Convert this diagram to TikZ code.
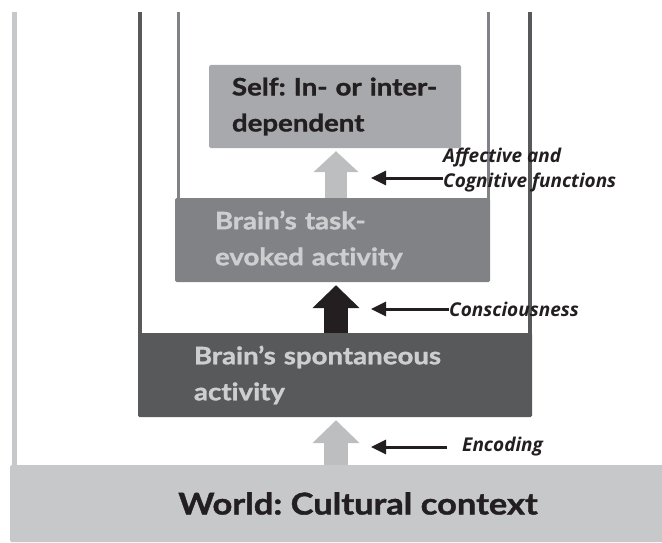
\documentclass[tikz,border=0pt]{standalone}
\usepackage{fontspec}
\setmainfont{Open Sans}
\newfontfamily\stagefont{Lato Bold}[FakeStretch=1.15, FakeBold=1.3, Ligatures=NoCommon]
\usetikzlibrary{arrows.meta}
\definecolor{worldgray}{HTML}{C7C8CA}
\definecolor{spontgray}{HTML}{58595B}
\definecolor{taskgray}{HTML}{808285}
\definecolor{selfgray}{HTML}{A7A9AC}
\definecolor{liftgray}{HTML}{BCBEC0}
\definecolor{inkdark}{HTML}{231F20}
\definecolor{inklight}{HTML}{CDCED0}
\tikzset{
  stage/.style={rounded corners=1.5pt, minimum height=84pt, inner ysep=0pt, align=left,
    font=\stagefont\fontsize{24}{36}\selectfont},
  lift/.style={line width=24pt, -{Triangle[length=23pt,width=46pt]}, shorten >=3pt},
  pointer/.style={inkdark, line width=3pt, -{Triangle[length=15pt,width=14pt]}},
  remark/.style={inkdark, inner sep=0pt, align=left, anchor=west,
    font=\bfseries\itshape\fontsize{19}{25}\selectfont}
}
\frenchspacing
\begin{document}
\begin{tikzpicture}[x=1pt,y=-1pt]
\useasboundingbox (0,0) rectangle (662,543);
% nested walls
\draw[worldgray, line width=5pt] (14,12) -- (14,470);
\draw[spontgray, line width=4pt] (140,12) -- (140,340) (530,12) -- (530,340);
\draw[taskgray, line width=3pt] (178.5,12) -- (178.5,205) (488.5,12) -- (488.5,205);

% the four levels
\node[stage, fill=worldgray, text=inkdark, minimum width=696pt, minimum height=77pt, align=center,
  font=\stagefont\fontsize{30}{36}\selectfont] (world) at (358,503.5) {World: Cultural context};
\node[stage, fill=spontgray, text=inklight, minimum width=394pt, inner xsep=56pt, text width=282pt]
  (spont) at (335,375) {Brain’s spontaneous\\activity};
\node[stage, fill=taskgray, text=inklight, minimum width=315pt, inner xsep=40pt, text width=235pt]
  (task) at (332.5,240) {Brain’s task-\\evoked activity};
\node[stage, fill=selfgray, text=inkdark, minimum width=252pt, minimum height=83pt, inner xsep=23pt, text width=206pt]
  (self) at (335,106.5) {Self: In- or inter-\\dependent};

% upward arrows
\draw[lift, liftgray] (world.north -| 336,0) -- (spont.south -| 336,0);
\draw[lift, inkdark] (spont.north -| 336,0) -- (task.south -| 336,0);
\draw[lift, liftgray, line width=22pt, -{Triangle[length=21pt,width=44pt]}] (task.north -| 336,0) -- (self.south -| 336,0);

% what acts at each step
\node[remark] (encoding) at (462,447) {Encoding};
\node[remark] (conscious) at (449,309) {Consciousness};
\node[remark] (funcs) at (443,170) {Affective and\\Cognitive functions};
\coordinate (t1) at (371,447);
\coordinate (t2) at (371,309);
\coordinate (t3) at (371,178);
\draw[pointer, shorten <=15pt] (encoding.west) -- (t1);
\draw[pointer] (conscious.west) -- (t2);
\draw[pointer] (funcs.west |- t3) -- (t3);
\end{tikzpicture}
\end{document}
